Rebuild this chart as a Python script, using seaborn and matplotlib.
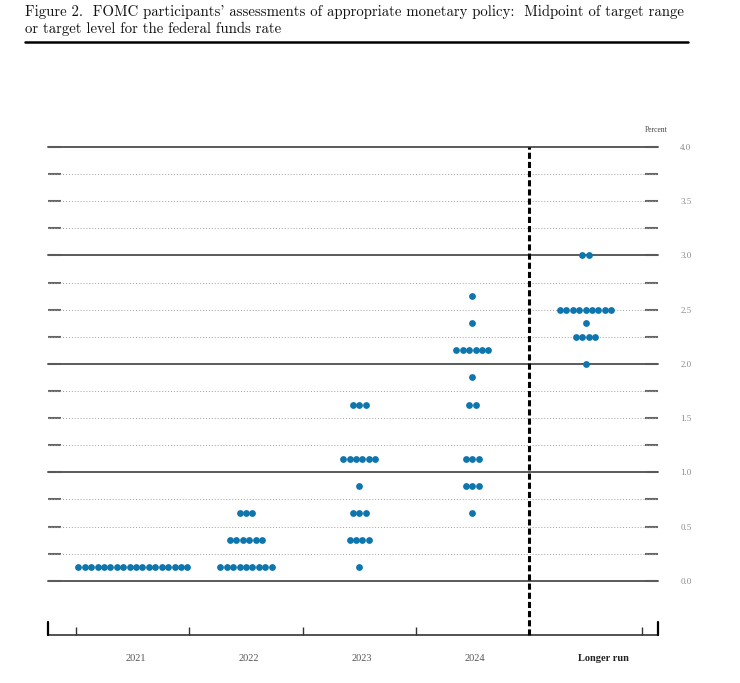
import matplotlib.pyplot as plt
import matplotlib.lines as mlines
import numpy as np
import pandas as pd
import seaborn as sns

sns.set_style("white")
plt.rcParams['font.family'] = ['Liberation Serif', 'DejaVu Serif']

# Dot plot data: midpoint rate and number of participants at that rate
columns = ["2021", "2022", "2023", "2024", "Longer run"]
rates_2021 = [0.125]
counts_2021 = [18]
rates_2022 = [0.125, 0.375, 0.625]
counts_2022 = [9, 6, 3]
rates_2023 = [0.125, 0.375, 0.625, 0.875, 1.125, 1.625]
counts_2023 = [1, 4, 3, 1, 6, 3]
rates_2024 = [0.625, 0.875, 1.125, 1.625, 1.875, 2.125, 2.375, 2.625]
counts_2024 = [1, 3, 3, 2, 1, 6, 1, 1]
rates_lr = [2.0, 2.25, 2.375, 2.5, 3.0]
counts_lr = [1, 4, 1, 9, 2]

y_ticks = [0.0, 0.5, 1.0, 1.5, 2.0, 2.5, 3.0, 3.5, 4.0]

DOT = "#0e76ad"
DOT_STEP = 0.0566


def build_frame():
    groups = [(rates_2021, counts_2021), (rates_2022, counts_2022),
              (rates_2023, counts_2023), (rates_2024, counts_2024),
              (rates_lr, counts_lr)]
    rows = []
    for i, (rates, counts) in enumerate(groups):
        for r, n in zip(rates, counts):
            for k in range(n):
                rows.append({"column": columns[i], "x": i + (k - (n - 1) / 2) * DOT_STEP, "rate": r})
    return pd.DataFrame(rows)


df = build_frame()

fig = plt.figure(figsize=(7.4, 6.83), dpi=100)
ax = fig.add_axes([48 / 740, 1 - 635 / 683, 610 / 740, 488 / 683])
ax.set_xlim(-0.75, 4.64)
ax.set_ylim(-0.5, 4.0)

# horizontal reference lines
for y in np.arange(0, 4.01, 0.25):
    if y % 1 == 0:
        ax.axhline(y, color="#5a5a5a", lw=1.4, zorder=1, clip_on=False)
    else:
        ax.axhline(y, color="#a0a0a0", lw=0.7, ls=(0, (1, 2)), zorder=1)

sns.scatterplot(data=df, x="x", y="rate", color=DOT, s=24, linewidth=0,
                ax=ax, zorder=5, legend=False)

# dashed separator before longer run
ax.plot([3.5, 3.5], [-0.5, 4.0], color="black", lw=2.2, ls=(0, (2, 1)), zorder=4, clip_on=False)

for s in ax.spines.values():
    s.set_visible(False)
ax.spines["bottom"].set_visible(True)
ax.spines["bottom"].set_color("#333333")
ax.spines["bottom"].set_linewidth(1.2)

# y ticks: marks both sides, labels on right
ax.set_yticks(y_ticks)
ax.set_yticklabels([f"{v:.1f}" for v in y_ticks])
ax.set_yticks(np.arange(0.25, 4.0, 0.5), minor=True)
ax.tick_params(axis="y", which="both", direction="in", length=9.5, width=1.5,
               color="#666666", left=True, right=True, labelleft=False,
               labelright=True, pad=16, labelsize=6.5, labelcolor="#8a8a8a")

# x ticks: column separators
ax.set_xticks([-0.5, 0.5, 1.5, 2.5, 4.5])
ax.set_xticklabels([])
ax.tick_params(axis="x", which="both", direction="in", length=5.5, width=1.0,
               color="#333333", bottom=True, top=False)
ax.set_xlabel("")
ax.set_ylabel("")
ax.grid(False)

# end brackets
for xb in [-0.75, 4.64]:
    ax.plot([xb, xb], [-0.5, -0.38], color="black", lw=1.6, clip_on=False, zorder=6)

for i, lab in enumerate(columns):
    ax.text(i - 0.065, -0.72, lab, ha="left", va="center", fontsize=7.5,
            color="#222222" if lab == "Longer run" else "#555555",
            fontweight="bold" if lab == "Longer run" else "normal")

fig.text(656 / 740, 1 - 130 / 683, "Percent", ha="center", va="center",
         fontsize=5.5, color="#444444")

fig.text(25 / 740, 1 - 5 / 683,
         "Figure 2.  FOMC participants' assessments of appropriate monetary policy:  Midpoint of target range\n"
         "or target level for the federal funds rate",
         ha="left", va="top", fontsize=10.65, linespacing=1.25,
         family=["cmr10", "DejaVu Serif"], color="#111111")
fig.add_artist(mlines.Line2D([25 / 740, 688 / 740], [1 - 42 / 683] * 2,
                             color="black", lw=1.8))

fig.savefig("out.png", dpi=100)
